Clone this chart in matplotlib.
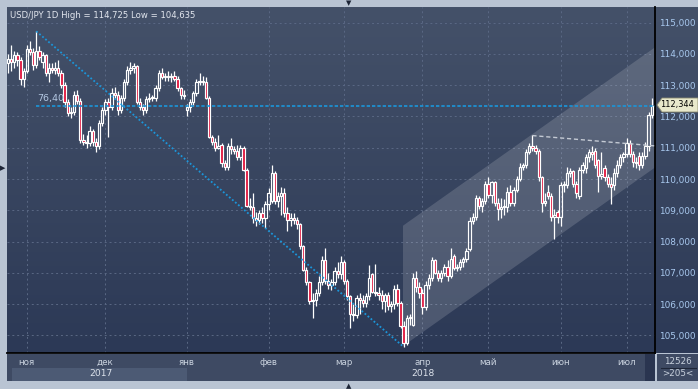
import numpy as np
import matplotlib
matplotlib.use('Agg')
import matplotlib.pyplot as plt
from matplotlib.colors import LinearSegmentedColormap
from matplotlib.patches import Polygon, Rectangle

# daily USD/JPY candles
opens = [113.70, 113.85, 113.75, 113.95, 113.80, 113.20, 113.45, 114.15, 114.05, 113.65,
         114.10, 113.75, 113.95, 113.40, 113.55, 113.50, 113.55, 113.40, 113.00, 112.45,
         112.10, 112.15, 112.70, 112.50, 111.25, 111.20, 111.15, 111.55, 111.20, 111.05,
         111.80, 112.20, 112.45, 112.30, 112.75, 112.70, 112.20, 112.60, 113.10, 113.50,
         113.55, 113.60, 112.45, 112.30, 112.20, 112.55, 112.60, 112.60, 112.90, 113.40,
         113.25, 113.30, 113.25, 113.30, 113.20, 112.90, 112.70, 112.20, 112.30, 112.45,
         112.75, 113.10, 113.15, 113.10, 112.60, 111.35, 111.20, 111.00, 111.10, 110.50,
         110.40, 111.05, 110.95, 110.90, 110.70, 111.00, 110.30, 109.15, 109.10, 108.75,
         108.70, 108.90, 108.75, 109.20, 109.30, 110.20, 109.30, 109.45, 109.55, 108.90,
         108.70, 108.75, 108.70, 108.55, 107.85, 107.10, 106.70, 106.10, 106.15, 106.35,
         106.70, 107.40, 106.75, 106.60, 106.70, 107.05, 106.95, 107.35, 106.75, 106.25,
         105.70, 105.65, 106.20, 106.15, 106.05, 106.25, 106.95, 106.40, 106.35, 106.30,
         106.10, 106.30, 105.95, 106.00, 106.50, 106.05, 105.30, 104.75, 105.55, 105.35,
         106.85, 106.55, 106.35, 105.90, 106.60, 106.85, 107.40, 107.00, 106.85, 107.00,
         107.20, 106.90, 107.55, 107.15, 107.20, 107.35, 107.45, 107.75, 108.65, 108.80,
         109.40, 109.15, 109.30, 109.85, 109.50, 109.90, 109.25, 109.05, 109.10, 109.10,
         109.60, 109.25, 109.65, 110.00, 110.40, 110.45, 110.85, 111.05, 111.00, 110.90,
         110.05, 109.25, 109.60, 109.45, 108.80, 108.95, 108.80, 109.80, 109.80, 110.20,
         110.25, 109.85, 109.45, 110.30, 110.35, 110.70, 110.85, 110.90, 110.60, 110.10,
         110.35, 110.05, 109.85, 109.80, 110.20, 110.45, 110.70, 110.80, 111.15, 110.80,
         110.55, 110.75, 110.45, 110.75, 111.05, 112.05]
highs = [114.00, 114.30, 114.10, 114.05, 113.90, 113.55, 114.30, 114.40, 114.20, 114.725,
         114.25, 114.05, 114.00, 113.70, 113.70, 113.75, 113.80, 113.50, 113.10, 112.55,
         112.30, 112.80, 112.85, 112.60, 111.45, 111.40, 111.70, 111.60, 111.30, 111.90,
         112.30, 112.55, 112.60, 112.90, 112.95, 112.80, 112.70, 113.20, 113.60, 113.75,
         113.70, 113.65, 112.60, 112.40, 112.65, 112.75, 112.70, 113.00, 113.50, 113.55,
         113.40, 113.45, 113.40, 113.45, 113.30, 112.95, 112.85, 112.40, 112.55, 112.80,
         113.20, 113.40, 113.30, 113.25, 112.65, 111.40, 111.30, 111.40, 111.15, 110.60,
         111.15, 111.30, 111.05, 111.10, 111.10, 111.05, 110.35, 109.40, 109.55, 108.95,
         109.00, 109.10, 109.30, 109.70, 110.45, 110.25, 109.60, 109.75, 109.70, 109.10,
         108.90, 108.90, 108.80, 108.60, 107.90, 107.20, 106.75, 106.35, 106.50, 106.90,
         107.55, 107.80, 107.00, 106.80, 107.20, 107.35, 107.55, 107.40, 106.80, 106.30,
         106.00, 106.30, 106.35, 106.30, 106.35, 107.25, 107.00, 107.30, 106.55, 106.45,
         106.35, 106.40, 106.10, 106.60, 106.65, 106.10, 105.45, 105.65, 105.70, 107.00,
         107.05, 106.70, 106.50, 106.75, 106.95, 107.50, 107.45, 107.10, 107.10, 107.30,
         107.40, 107.80, 107.60, 107.30, 107.45, 107.50, 107.80, 108.80, 108.90, 109.50,
         109.45, 109.40, 109.95, 110.05, 109.95, 109.95, 109.40, 109.40, 109.35, 109.75,
         109.80, 109.75, 110.10, 110.50, 110.50, 110.95, 111.15, 111.40, 111.10, 110.95,
         110.10, 109.55, 109.80, 109.55, 109.05, 109.00, 109.90, 109.95, 110.40, 110.35,
         110.30, 109.95, 110.40, 110.55, 110.80, 110.95, 111.05, 111.00, 110.65, 110.85,
         110.45, 110.15, 110.05, 110.35, 110.60, 110.80, 110.85, 111.30, 111.25, 110.90,
         110.70, 110.85, 110.85, 111.20, 112.15, 112.60]
lows = [113.40, 113.45, 113.55, 113.60, 113.00, 112.95, 113.40, 113.95, 113.50, 113.55,
        113.80, 113.55, 113.30, 113.10, 113.40, 113.35, 113.30, 112.90, 112.30, 112.00,
        111.95, 112.05, 112.40, 111.15, 111.10, 111.00, 111.05, 111.05, 110.85, 110.95,
        111.70, 112.05, 111.35, 112.20, 112.55, 112.05, 112.10, 112.50, 113.00, 113.35,
        113.40, 112.40, 112.20, 112.05, 112.10, 112.45, 112.50, 112.50, 112.80, 113.20,
        113.15, 113.15, 113.10, 113.15, 112.80, 112.55, 112.55, 112.00, 112.15, 112.35,
        112.65, 113.00, 113.00, 112.55, 111.30, 111.10, 110.90, 110.95, 110.40, 110.30,
        110.30, 110.80, 110.80, 110.60, 110.60, 110.25, 109.10, 109.00, 108.60, 108.50,
        108.55, 108.60, 108.45, 109.00, 109.25, 109.20, 109.10, 108.85, 108.80, 108.35,
        108.50, 108.55, 108.40, 107.75, 107.05, 106.60, 106.00, 105.55, 105.95, 106.25,
        106.60, 106.65, 106.50, 106.45, 106.60, 106.85, 106.80, 106.65, 106.15, 105.25,
        105.45, 105.55, 105.70, 105.90, 105.90, 106.15, 106.35, 106.25, 106.15, 105.85,
        105.75, 105.80, 105.75, 105.85, 105.95, 105.25, 104.635, 104.70, 105.35, 105.30,
        106.40, 106.20, 105.70, 105.80, 106.50, 106.75, 106.95, 106.75, 106.70, 106.90,
        106.75, 106.85, 107.10, 107.05, 107.10, 107.20, 107.35, 107.70, 108.55, 108.70,
        109.05, 108.95, 109.20, 109.40, 109.25, 109.15, 108.70, 108.75, 108.85, 108.95,
        109.15, 109.15, 109.60, 109.95, 110.30, 110.35, 110.80, 110.90, 110.80, 109.95,
        108.95, 109.15, 109.35, 108.65, 108.10, 108.60, 108.50, 109.60, 109.70, 110.05,
        109.75, 109.40, 109.35, 110.20, 110.20, 110.55, 110.60, 110.35, 109.60, 110.00,
        109.95, 109.75, 109.20, 109.65, 110.05, 110.35, 110.55, 110.70, 110.70, 110.40,
        110.35, 110.30, 110.35, 110.65, 110.90, 111.95]
closes = [113.85, 113.75, 113.95, 113.80, 113.20, 113.45, 114.15, 114.05, 113.65, 114.10,
          113.90, 113.95, 113.40, 113.55, 113.50, 113.55, 113.40, 113.00, 112.45, 112.10,
          112.15, 112.70, 112.50, 111.25, 111.20, 111.15, 111.55, 111.20, 111.05, 111.80,
          112.20, 112.45, 112.30, 112.75, 112.70, 112.20, 112.60, 113.10, 113.50, 113.55,
          113.60, 112.45, 112.30, 112.20, 112.55, 112.60, 112.60, 112.90, 113.40, 113.25,
          113.30, 113.25, 113.30, 113.20, 112.90, 112.70, 112.65, 112.30, 112.45, 112.75,
          113.10, 113.15, 113.10, 112.60, 111.35, 111.20, 111.00, 111.05, 110.50, 110.40,
          111.05, 110.95, 110.90, 110.70, 111.00, 110.30, 109.15, 109.10, 108.75, 108.70,
          108.90, 108.75, 109.20, 109.55, 110.20, 109.30, 109.45, 109.55, 108.90, 108.70,
          108.75, 108.70, 108.55, 107.85, 107.10, 106.70, 106.10, 106.15, 106.35, 106.70,
          107.40, 106.75, 106.60, 106.70, 107.05, 106.95, 107.35, 106.75, 106.25, 105.70,
          105.65, 106.20, 106.15, 106.05, 106.25, 106.85, 106.40, 106.35, 106.30, 106.10,
          106.30, 105.95, 106.00, 106.50, 106.05, 105.30, 104.75, 105.55, 105.60, 106.85,
          106.55, 106.35, 105.90, 106.60, 106.85, 107.40, 107.00, 106.85, 107.00, 107.20,
          106.90, 107.45, 107.15, 107.20, 107.35, 107.45, 107.70, 108.65, 108.80, 109.40,
          109.15, 109.30, 109.85, 109.50, 109.90, 109.25, 109.05, 109.10, 109.10, 109.60,
          109.25, 109.65, 110.00, 110.40, 110.45, 110.85, 111.05, 111.00, 110.90, 110.05,
          109.25, 109.30, 109.45, 108.80, 108.85, 108.80, 109.80, 109.80, 110.20, 110.25,
          109.85, 109.55, 110.30, 110.45, 110.70, 110.85, 110.80, 110.45, 110.10, 110.15,
          110.05, 109.85, 109.75, 110.20, 110.45, 110.70, 110.80, 111.15, 110.80, 110.55,
          110.50, 110.45, 110.75, 111.05, 112.05, 112.344]

month_names = ['ноя', 'дек', 'янв', 'фев', 'мар', 'апр', 'май', 'июн', 'июл']
month_start = [6, 31, 57, 83, 107, 132, 153, 176, 197]   # bar index of first day of month
price_ticks = [105, 106, 107, 108, 109, 110, 111, 112, 113, 114, 115]

# drawing objects of the chart author
trend_line = [(9, 114.725), (126, 104.635)]
fibo_level = 112.344
channel_left = [125.8, 104.66, 108.51]     # bar, lower, upper
channel_right = [206.05, 110.37, 114.21]
resist_line = [(167, 111.39), (206.05, 111.06)]

W, H = 698, 389
fig = plt.figure(figsize=(W / 100, H / 100), dpi=100)
fig.patch.set_facecolor('#b9c4d3')


def fbox(x0, y0, x1, y1):
    # pixel box (top-left origin) -> figure fraction rect
    return [x0 / W, 1 - y1 / H, (x1 - x0) / W, (y1 - y0) / H]


# gradient background for plot + price scale
bg = fig.add_axes(fbox(7, 7, 698, 353))
cmap = LinearSegmentedColormap.from_list('bgc', ['#2c3956', '#445169'])
bg.imshow(np.linspace(0, 1, 256).reshape(-1, 1), cmap=cmap, origin='lower',
          aspect='auto', extent=[0, 1, 0, 1])
bg.set_axis_off()

ax = fig.add_axes(fbox(7, 7, 655, 353))
ax.set_facecolor('none')
ax.set_xlim(-0.32, 206.05)
ax.set_ylim(104.44, 115.5)

ax.set_xticks(month_start)
ax.set_yticks(price_ticks)
ax.set_yticklabels(['{:.3f}'.format(p).replace('.', ',') for p in price_ticks])
ax.yaxis.tick_right()
ax.tick_params(axis='y', length=0, pad=3, labelsize=6.4, labelcolor='#a8c8ee')
ax.tick_params(axis='x', length=0, labelbottom=False)
ax.grid(True, color='#5a6884', linestyle=(0, (2, 3)), linewidth=0.7)
ax.set_axisbelow(True)
for s in ['top', 'left']:
    ax.spines[s].set_visible(False)
for s in ['right', 'bottom']:
    ax.spines[s].set_color('black')
    ax.spines[s].set_linewidth(1.3)

# channel
xs = [channel_left[0], channel_left[0], channel_right[0], channel_right[0]]
ys = [channel_left[1], channel_left[2], channel_right[2], channel_right[1]]
ax.add_patch(Polygon(list(zip(xs, ys)), closed=True, facecolor='white',
                     alpha=0.15, edgecolor='none', zorder=1))

# candles
o = np.array(opens)
h = np.array(highs)
l = np.array(lows)
c = np.array(closes)
idx = np.arange(len(c))
top = np.maximum(o, c)
bot = np.minimum(o, c)
ax.vlines(idx, top, h, color='white', linewidth=0.9, zorder=3)
ax.vlines(idx, l, bot, color='white', linewidth=0.9, zorder=3)
fills = ['none' if cc >= oo else '#e0143c' for oo, cc in zip(o, c)]
ax.bar(idx, np.maximum(top - bot, 0.03), bottom=bot, width=0.74, color=fills,
       edgecolor='white', linewidth=0.85, zorder=3)

# trend line and fibo level
ax.plot([p[0] for p in trend_line], [p[1] for p in trend_line], color='#1b96da',
        linewidth=1.3, linestyle=(0, (1, 1.2)), zorder=4)
ax.plot([trend_line[0][0], 206.05], [fibo_level, fibo_level], color='#1b96da',
        linewidth=1.2, linestyle=(0, (2, 1.2)), zorder=4)
ax.text(trend_line[0][0] + 0.3, fibo_level + 0.1, '76,40', color='#b4c8e2',
        fontsize=6.8, va='bottom', ha='left', zorder=5)
ax.plot([p[0] for p in resist_line], [p[1] for p in resist_line], color='#c4cad4',
        linewidth=1.0, linestyle=(0, (3, 2)), zorder=4)

# title
fig.text(10 / W, 1 - 16 / H, 'USD/JPY 1D High = 114,725 Low = 104,635',
         color='#e2e6ee', fontsize=6.1, va='center', ha='left')

# last price label
yl = 105
pts = [(657, yl), (662, yl - 7), (698, yl - 7), (698, yl + 7), (662, yl + 7)]
fig.add_artist(Polygon([(x / W, 1 - y / H) for x, y in pts], closed=True,
                       facecolor='#e8e8cc', edgecolor='#8a8a70', linewidth=0.6,
                       transform=fig.transFigure))
fig.text(677 / W, 1 - yl / H, '{:.3f}'.format(closes[-1]).replace('.', ','),
         color='black', fontsize=5.9, va='center', ha='center')

# time scale panel
tx = fig.add_axes(fbox(7, 354, 655, 381))
tx.set_facecolor('#3e4a63')
tx.set_xlim(ax.get_xlim())
tx.set_ylim(0, 1)
tx.set_xticks([])
tx.set_yticks([])
for s in tx.spines.values():
    s.set_visible(False)
tx.add_patch(Rectangle((1.3, 0), month_start[2] - 1.3, 0.48, facecolor='#4c5a74',
                       edgecolor='none'))
tx.add_patch(Rectangle((202.8, 0.0), 3.2, 1.0, facecolor='#2a3550', edgecolor='none'))
for m, name in zip(month_start, month_names):
    tx.text(m, 0.68, name, color='#c9d2de', fontsize=6.3, ha='center', va='center')
tx.text(29.5, 0.27, '2017', color='#dde3ec', fontsize=6.6, ha='center', va='center')
tx.text(132, 0.27, '2018', color='#dde3ec', fontsize=6.6, ha='center', va='center')

# bar counter box
cb = fig.add_axes(fbox(657, 354, 698, 381))
cb.set_facecolor('#3e4a63')
cb.set_xticks([])
cb.set_yticks([])
for s in cb.spines.values():
    s.set_visible(False)
cb.set_xlim(0, 1)
cb.set_ylim(0, 1)
cb.plot([0.1, 0.95], [0.5, 0.5], color='#1e2638', linewidth=0.8)
cb.text(0.5, 0.74, '12526', color='#c9d2de', fontsize=6.3, ha='center', va='center')
cb.text(0.5, 0.26, '>205<', color='#c9d2de', fontsize=6.3, ha='center', va='center')

# small arrows on the frame
fig.text(349 / W, 1 - 3 / H, '▼', color='#1c2436', fontsize=5, ha='center', va='center')
fig.text(349 / W, 1 - 386 / H, '▲', color='#1c2436', fontsize=5, ha='center', va='center')
fig.text(3 / W, 1 - 168 / H, '▶', color='#1c2436', fontsize=5, ha='center', va='center')

fig.savefig('out.png', dpi=100, facecolor=fig.get_facecolor())
